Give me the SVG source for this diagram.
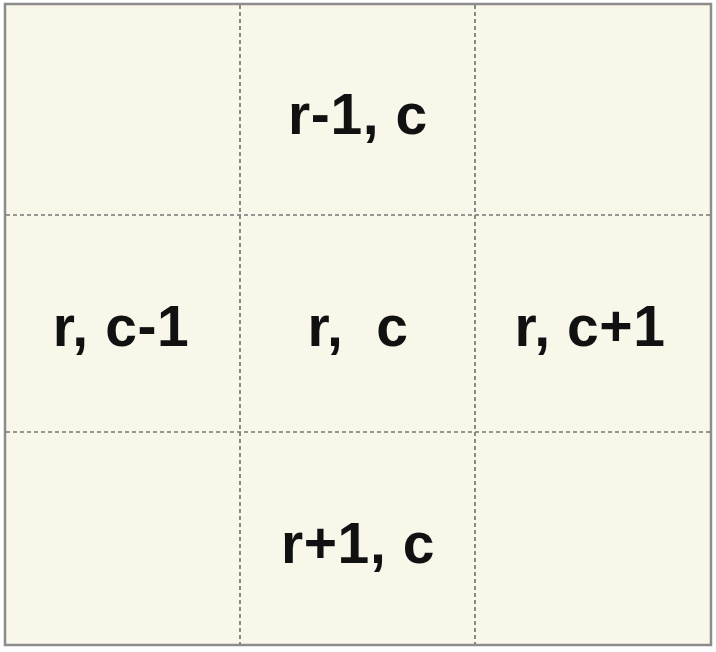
<svg xmlns="http://www.w3.org/2000/svg" width="716" height="652" viewBox="0 0 716 652">
<style>
.grid{stroke:#777;stroke-width:1.7;stroke-dasharray:4 3;fill:none}
.lbl{font-family:"Liberation Sans",Arial,sans-serif;font-weight:bold;font-size:57px;letter-spacing:0.6px;fill:#111;text-anchor:middle}
</style>
<rect x="0" y="0" width="716" height="652" fill="#ffffff"/>
<rect x="5" y="4" width="706" height="641" fill="#f9f6ea" stroke="#8c8c8c" stroke-width="2.5"/>
<g id="connectors">
<line class="grid" x1="240" y1="5" x2="240" y2="644"/>
<line class="grid" x1="475" y1="5" x2="475" y2="644"/>
<line class="grid" x1="6" y1="215" x2="710" y2="215"/>
<line class="grid" x1="6" y1="432" x2="710" y2="432"/>
</g>
<g id="top"><text class="lbl" x="358" y="134">r-1, c</text></g>
<g id="left"><text class="lbl" x="121" y="346">r, c-1</text></g>
<g id="center"><text class="lbl" x="358" y="346" xml:space="preserve">r,  c</text></g>
<g id="right"><text class="lbl" x="590" y="346">r, c+1</text></g>
<g id="bottom"><text class="lbl" x="358" y="563">r+1, c</text></g>
</svg>
